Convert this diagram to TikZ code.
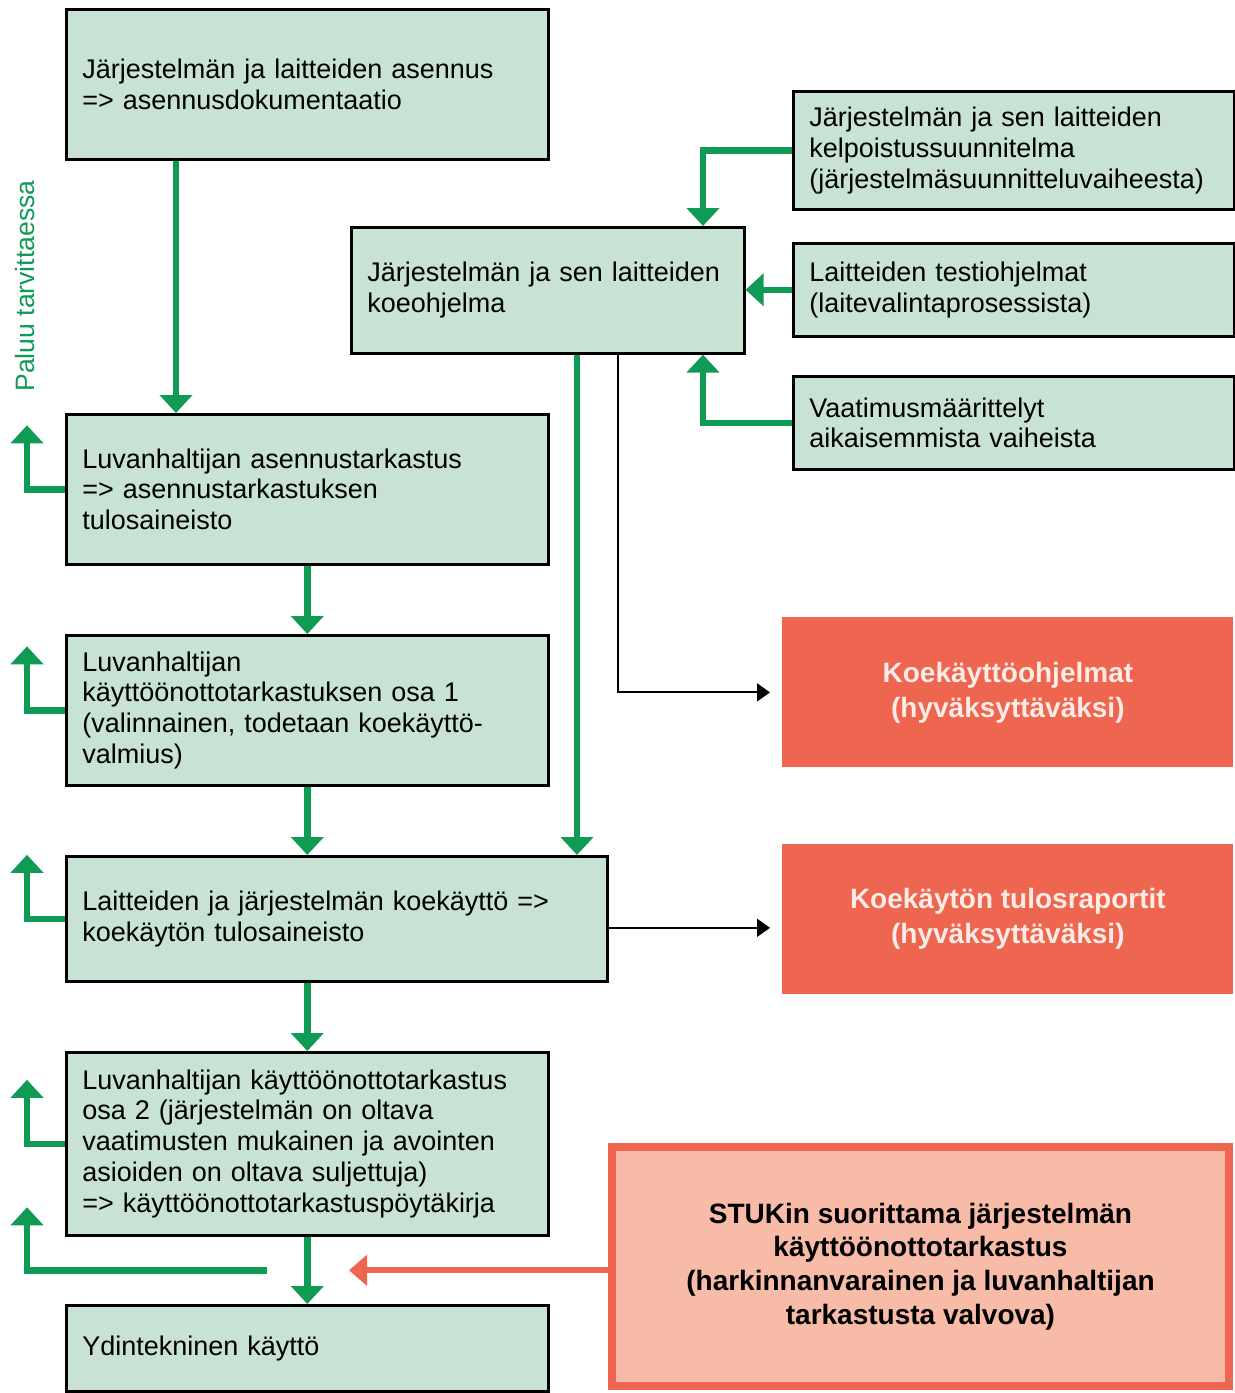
\documentclass[tikz,border=0pt]{standalone}
\usepackage{fontspec}
\setmainfont{Liberation Sans}
\usepackage{xcolor}
\usetikzlibrary{positioning, arrows.meta, calc}
\definecolor{boxgreen}{RGB}{200,227,211}
\definecolor{arrowgreen}{RGB}{16,155,84}
\definecolor{boxred}{RGB}{238,101,80}
\definecolor{boxsalmon}{RGB}{247,187,168}
\definecolor{textpink}{RGB}{253,236,230}

\begin{document}
\begin{tikzpicture}[
  x=0.5pt, y=-0.5pt,
  box/.style={rectangle, draw, line width=1.3pt, fill=boxgreen, anchor=north west, align=left, inner xsep=8pt, font=\fontsize{13.5}{15.4}\selectfont},
  lbox/.style={box, minimum width=241pt, text width=225pt},
  rbox/.style={box, minimum width=220.5pt, text width=204.5pt},
  redbox/.style={rectangle, fill=boxred, anchor=north west, minimum width=225.5pt, minimum height=75pt, align=center, text=textpink, font=\fontsize{14}{17.5}\selectfont\bfseries},
  garrow/.style={draw=arrowgreen, line width=3.2pt, -{Triangle[width=16pt,length=9pt]}},
  karrow/.style={line width=1pt, -{Triangle[width=9pt,length=6.5pt]}, shorten >=6pt},
  rarrow/.style={draw=boxred, line width=3pt, -{Triangle[width=15pt,length=9pt]}},
  node distance=34.2pt
]
\useasboundingbox (0,0) rectangle (1235,1393);

\node[lbox, minimum height=75pt] (inst) at (65,8) {Järjestelmän ja laitteiden asennus\\=> asennusdokumentaatio};
\node[lbox, minimum height=75pt, below=126.2pt of inst.south west, anchor=north west] (luvinst) {Luvanhaltijan asennustarkastus\\=> asennustarkastuksen\\tulosaineisto};
\node[lbox, minimum height=75pt, below=of luvinst.south west, anchor=north west] (osa1) {Luvanhaltijan\\käyttöönottotarkastuksen osa 1\\(valinnainen, todetaan koekäyttö-\\valmius)};
\node[box, minimum width=270.5pt, text width=254.5pt, minimum height=62.5pt, below=of osa1.south west, anchor=north west] (koek) {Laitteiden ja järjestelmän koekäyttö =>\\koekäytön tulosaineisto};
\node[lbox, minimum height=91.5pt, below=of koek.south west, anchor=north west] (osa2) {Luvanhaltijan käyttöönottotarkastus\\osa 2 (järjestelmän on oltava\\vaatimusten mukainen ja avointen\\asioiden on oltava suljettuja)\\=> käyttöönottotarkastuspöytäkirja};
\node[lbox, minimum height=43pt, below=33.7pt of osa2.south west, anchor=north west] (ydin) {Ydintekninen käyttö};

\node[box, minimum width=196.5pt, text width=180.5pt, minimum height=63pt] (koeohj) at (350,226) {Järjestelmän ja sen laitteiden\\koeohjelma};
\node[rbox, minimum height=59pt] (kelp) at (792,90) {Järjestelmän ja sen laitteiden\\kelpoistussuunnitelma\\(järjestelmäsuunnitteluvaiheesta)};
\node[rbox, minimum height=46.5pt, below=15.7pt of kelp.south west, anchor=north west] (testi) {Laitteiden testiohjelmat\\(laitevalintaprosessista)};
\node[rbox, minimum height=46.5pt, below=18.7pt of testi.south west, anchor=north west] (vaat) {Vaatimusmäärittelyt\\aikaisemmista vaiheista};

\node[redbox] (ohjred) at (782,617) {Koekäyttöohjelmat\\(hyväksyttäväksi)};
\node[redbox, below=38pt of ohjred.south west, anchor=north west] (tulosred) {Koekäytön tulosraportit\\(hyväksyttäväksi)};
\node[rectangle, draw=boxred, line width=4pt, fill=boxsalmon, anchor=north west, minimum width=308.5pt, minimum height=119.5pt, align=center, font=\fontsize{14}{16.9}\selectfont\bfseries] (stuk) at (608,1143) {STUKin suorittama järjestelmän\\käyttöönottotarkastus\\(harkinnanvarainen ja luvanhaltijan\\tarkastusta valvova)};

\node[rotate=90, text=arrowgreen, font=\fontsize{13.3}{15}\selectfont] (paluu) at (25,286) {Paluu tarvittaessa};

\draw[garrow] ([xshift=55.5pt]inst.south west) -- ([xshift=55.5pt]luvinst.north west);
\draw[garrow] (luvinst) -- (osa1);
\draw[garrow] (osa1) -- (osa1.south |- koek.north);
\draw[garrow] (osa2.north |- koek.south) -- (osa2);
\draw[garrow] (osa2) -- (ydin);

\draw[garrow] (kelp.west) -| ([xshift=176.5pt]koeohj.north west);
\draw[garrow] (testi.west) -- (testi.west -| koeohj.east);
\draw[garrow] (vaat.west) -| ([xshift=176.5pt]koeohj.south west);
\draw[garrow] ([xshift=113.5pt]koeohj.south west) -- ([xshift=113.5pt]koeohj.south west |- koek.north);

\draw[karrow] ([xshift=134pt]koeohj.south west) |- (ohjred.west);
\draw[karrow] ([yshift=-4.5pt]koek.east) -- ($(koek.east -| tulosred.west) + (0pt,-4.5pt)$);

\foreach \n in {luvinst, osa1, koek, osa2}
  \draw[garrow] (\n.west) -| ([xshift=-19pt, yshift=32pt]\n.west);

\coordinate (ret) at ($(osa2.south west)!0.5!(ydin.north west) + (101pt,0pt)$);
\coordinate (stukend) at ($(ret) + (41pt,0pt)$);
\draw[garrow] (ret) -| ($(ret -| osa2.west) + (-19pt,31.5pt)$);
\draw[rarrow] (stuk.west |- ret) -- (stukend);
\end{tikzpicture}
\end{document}
